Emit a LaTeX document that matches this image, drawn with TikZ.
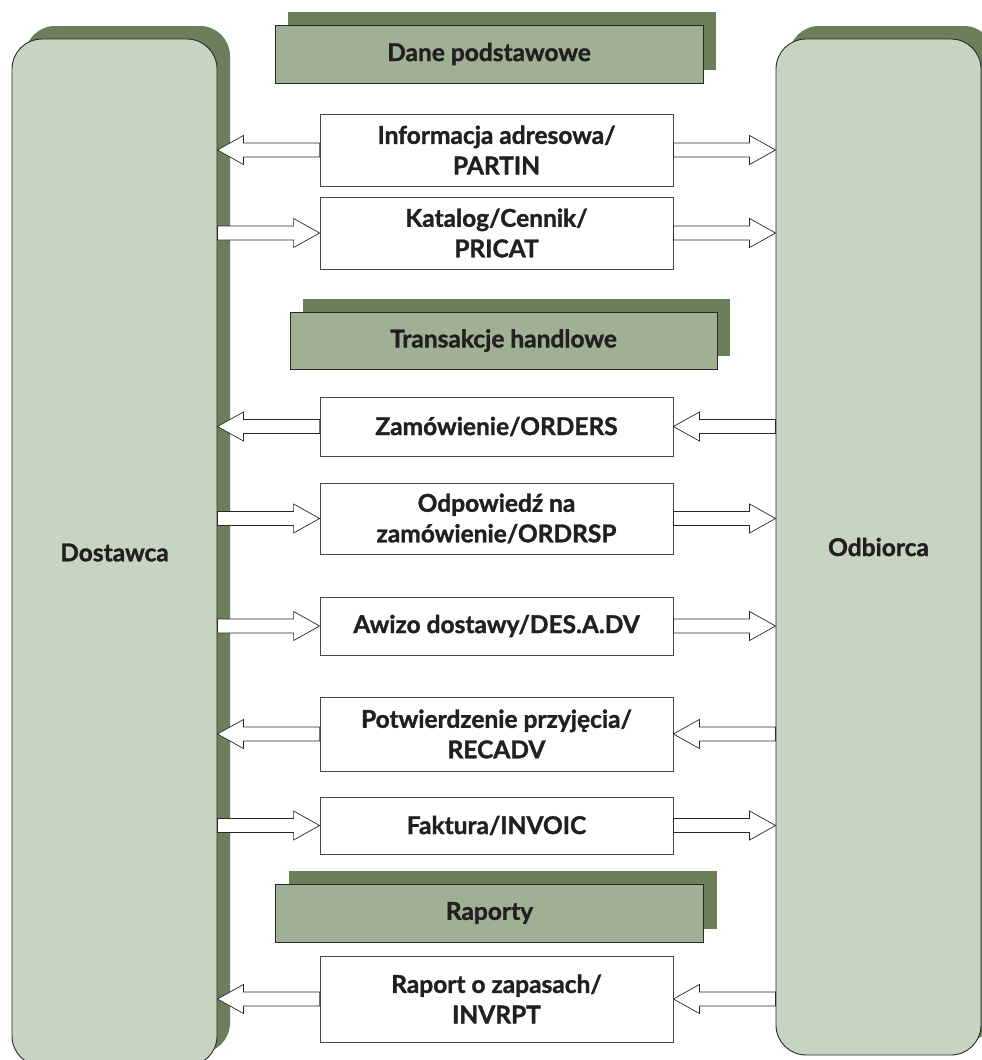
\documentclass[tikz,border=0pt]{standalone}
\usepackage{fontspec}
\setmainfont{Lato}[BoldFeatures={FakeBold=1.3}]
\usetikzlibrary{shadows,calc}
\definecolor{boxfill}{RGB}{200,212,194}
\definecolor{shadowgreen}{RGB}{108,127,91}
\definecolor{headfill}{RGB}{159,176,148}
\definecolor{ink}{RGB}{35,31,32}
\definecolor{edge}{RGB}{40,40,40}
\newcommand{\txtfont}{\bfseries\fontsize{24.5}{30.5}\selectfont}
\tikzset{
  party/.style={draw=edge, line width=0.9pt, fill=boxfill, rounded corners=30pt,
    general shadow={fill=shadowgreen, shadow xshift=13pt, shadow yshift=13pt},
    font=\txtfont, text=ink, inner sep=0pt, minimum width=205pt},
  header/.style={draw=edge, line width=0.8pt, fill=headfill,
    general shadow={fill=shadowgreen, shadow xshift=13pt, shadow yshift=13pt},
    minimum width=428pt, font=\txtfont, text=ink, inner sep=0pt},
  msg/.style={draw=edge!85, line width=0.8pt, fill=white, minimum width=353pt,
    align=center, font=\txtfont, text=ink, inner sep=0pt},
  fatarrow/.style={draw=edge, line width=0.7pt, fill=white, line join=miter}
}
\newcommand{\fatarrow}[2]{%
  \coordinate (fa-b) at ($(#2)!26pt!(#1)$);
  \draw[fatarrow] ($(#1)+(0,7pt)$) -- ($(fa-b)+(0,7pt)$) -- ($(fa-b)+(0,14.5pt)$)
    -- (#2) -- ($(fa-b)+(0,-14.5pt)$) -- ($(fa-b)+(0,-7pt)$) -- ($(#1)+(0,-7pt)$) -- cycle;}
\begin{document}
\begin{tikzpicture}[x=1pt,y=-1pt]
\useasboundingbox (0,0) rectangle (982,1060);
\clip (0,0) rectangle (982,1060);
% parties
\node[party, minimum height=1027pt] (L) at (114.5,552.5) {Dostawca};
\node[party, minimum height=1016pt] (R) at (878.5,547) {Odbiorca};
% headers
\node[header, minimum height=58pt] (h1) at (489,54) {Dane podstawowe};
\node[header, minimum width=427pt, minimum height=57pt] (h2) at (503.5,340.5) {Transakcje handlowe};
\node[header, minimum height=58pt] (h3) at (489.5,913) {Raporty};
% messages
\node[msg, minimum height=72pt] (m1) at (496.5,150) {Informacja adresowa/\\PARTIN};
\node[msg, minimum height=72pt] (m2) at (496.5,233) {Katalog/Cennik/\\PRICAT};
\node[msg, minimum height=59pt] (m3) at (496.5,426.5) {Zamówienie/ORDERS};
\node[msg, minimum height=71pt] (m4) at (496.5,518.5) {Odpowiedź na\\zamówienie/ORDRSP};
\node[msg, minimum height=58pt] (m5) at (496.5,626) {Awizo dostawy/DES.A.DV};
\node[msg, minimum height=74pt] (m6) at (496.5,734) {Potwierdzenie przyjęcia/\\RECADV};
\node[msg, minimum height=57pt] (m7) at (496.5,825.5) {Faktura/INVOIC};
\node[msg, minimum height=86pt] (m8) at (496.5,999) {Raport o zapasach/\\INVRPT};
% attachment points on the party boxes
\foreach \i in {1,...,8}{
  \coordinate (l\i) at (L.east |- m\i.west);
  \coordinate (r\i) at (R.west |- m\i.east);
}
% connectors
\fatarrow{m1.west}{l1}
\fatarrow{m1.east}{r1}
\fatarrow{l2}{m2.west}
\fatarrow{m2.east}{r2}
\fatarrow{m3.west}{l3}
\fatarrow{r3}{m3.east}
\fatarrow{l4}{m4.west}
\fatarrow{m4.east}{r4}
\fatarrow{l5}{m5.west}
\fatarrow{m5.east}{r5}
\fatarrow{m6.west}{l6}
\fatarrow{r6}{m6.east}
\fatarrow{l7}{m7.west}
\fatarrow{m7.east}{r7}
\fatarrow{m8.west}{l8}
\fatarrow{r8}{m8.east}
\end{tikzpicture}
\end{document}
